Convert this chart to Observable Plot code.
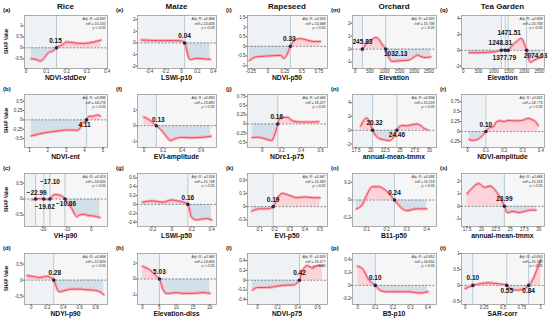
<!DOCTYPE html>
<html><head><meta charset="utf-8">
<script src="https://cdn.jsdelivr.net/npm/d3@7"></script>
<script src="https://cdn.jsdelivr.net/npm/@observablehq/plot@0.6"></script>
<style>
body{margin:0;background:#fff;font-family:"Liberation Sans",Arial,sans-serif;}
#c{position:relative;width:550px;height:322px;overflow:hidden;background:#fff;}
.t{position:absolute;white-space:nowrap;color:#111;line-height:1;}
.p{position:absolute;}
.p svg{overflow:visible;}
</style></head><body><div id="c"></div><script>
// ---------- data ----------
const columns = ["Rice","Maize","Rapeseed","Orchard","Tea Garden"];
const letters = ["a","b","c","d","e","f","g","h","i","j","k","l","m","n","o","p","q","r","s","t"];
const features = ["NDVI-stdDev","NDVI-ent","VH-p90","NDYI-p90","LSWI-p10","EVI-amplitude","LSWI-p50","Elevation-diss","NDVI-p50","NDre1-p75","EVI-p50","NDVI-p75","Elevation","annual-mean-tmmx","B11-p50","B5-p10","Elevation","NDVI-amplitude","annual-mean-tmmx","SAR-corr"];
const adjR2 = ["0.892","0.896","0.913","0.884","0.964","0.883","0.914","0.940","0.933","0.943","0.947","0.929","0.925","0.894","0.936","0.852","0.899","0.831","0.846","0.853"];
const edf = ["15.150","14.276","14.835","12.429","13.426","13.480","15.738","13.456","13.948","16.227","15.380","16.377","15.798","15.518","15.118","14.655","15.768","14.773","15.318","15.190"];

// (a) Rice NDVI-stdDev
const aX = [0.025,0.05,0.07,0.09,0.11,0.13,0.15,0.18,0.2,0.22,0.25,0.28,0.31,0.34,0.37];
const aY = [-0.5,-0.53,-0.6,-0.45,-0.22,-0.15,0,0.15,0.26,0.25,0.21,0.2,0.22,0.28,0.35];
const aThr = [0.15];
// (b) Rice NDVI-ent
const bX = [1.1,1.5,2,2.5,3,3.3,3.6,3.75,3.85,3.95,4.11,4.25,4.4,4.6,4.75,4.85];
const bY = [-0.43,-0.38,-0.33,-0.3,-0.27,-0.27,-0.28,-0.22,-0.1,-0.07,0,0.1,0.09,0.12,0.13,0.1];
const bThr = [4.11];
// (c) Rice VH-p90
const cX = [-24.5,-22.99,-21,-19.62,-18.3,-17.1,-16,-15,-13.5,-12,-10.86,-9.5,-8,-7,-6,-5,-3,-1,1,3.5];
const cY = [-0.02,0,0.01,0,-0.01,0,0.1,0.14,0.13,0.08,0,-0.15,-0.3,-0.45,-0.55,-0.5,-0.48,-0.52,-0.53,-0.58];
const cThr = [-22.99,-19.62,-17.10,-10.86];
// (d) Rice NDYI-p90
const dX = [-0.05,0,0.05,0.1,0.15,0.2,0.24,0.28,0.3,0.33,0.36,0.4,0.45,0.5,0.6,0.7,0.8,0.85,0.9];
const dY = [0.14,0.12,0.1,0.08,0.1,0.12,0.08,0,-0.12,-0.32,-0.36,-0.33,-0.3,-0.28,-0.28,-0.3,-0.32,-0.36,-0.45];
const dThr = [0.28];
// (e) Maize LSWI-p10
const eX = [-0.5,-0.4,-0.3,-0.2,-0.1,0,0.02,0.04,0.06,0.08,0.1,0.13,0.16,0.2,0.25,0.3,0.36];
const eY = [0.25,0.23,0.2,0.2,0.2,0.18,0.12,0,-0.4,-1.0,-1.38,-1.42,-1.35,-1.32,-1.35,-1.38,-1.4];
const eThr = [0.04];
// (f) Maize EVI-amplitude
const fX = [0,0.05,0.1,0.13,0.17,0.2,0.25,0.28,0.32,0.4,0.5,0.6,0.7];
const fY = [0.55,0.4,0.15,0,-0.2,-0.4,-0.8,-0.95,-0.85,-0.75,-0.78,-0.75,-0.68];
const fThr = [0.13];
// (g) Maize LSWI-p50
const gX = [-0.3,-0.2,-0.1,0,0.05,0.1,0.16,0.2,0.25,0.3,0.35,0.4];
const gY = [0.05,0.08,0.05,0.1,0.08,0.06,0,-0.3,-0.35,-0.33,-0.32,-0.35];
const gThr = [0.16];
// (h) Maize Elevation-diss
const hX = [0,1,2,3,4,5.03,6,7,8,10,12,15,18,20];
const hY = [0.8,0.7,0.6,0.4,0.2,0,-0.6,-0.9,-0.9,-0.85,-0.9,-0.9,-0.85,-0.9];
const hThr = [5.03];
// (i) Rapeseed NDVI-p50
const iX = [-0.27,-0.18,-0.1,0,0.1,0.19,0.235,0.27,0.33,0.38,0.43,0.48,0.53,0.58,0.67,0.77];
const iY = [-0.73,-0.55,-0.52,-0.5,-0.48,-0.47,-0.62,-0.5,0,0.28,0.38,0.4,0.36,0.32,0.25,0.25];
const iThr = [0.33];
// (j) Rapeseed NDre1-p75
const jX = [-0.1,-0.05,0,0.05,0.1,0.12,0.14,0.16,0.18,0.2,0.25,0.28,0.3,0.35,0.4,0.5,0.58];
const jY = [-0.37,-0.36,-0.38,-0.42,-0.45,-0.35,-0.2,0,0.15,0.17,0.18,0.15,0.1,0.06,0.05,0.05,0.06];
const jThr = [0.16];
// (k) Rapeseed EVI-p50
const kX = [0.05,0.1,0.15,0.19,0.22,0.25,0.3,0.35,0.4,0.45,0.5];
const kY = [-0.1,-0.05,-0.05,0,0.2,0.3,0.25,0.2,0.22,0.2,0.2];
const kThr = [0.19];
// (l) Rapeseed NDVI-p75
const lX = [-0.05,0,0.1,0.2,0.3,0.35,0.42,0.45,0.5,0.55,0.6,0.65];
const lY = [-0.2,-0.15,-0.15,-0.12,-0.1,-0.1,0,0.2,0.3,0.25,0.3,0.3];
const lThr = [0.42];
// (m) Orchard Elevation
const mX = [200,245.83,400,550,700,800,900,1032.13,1150,1250,1500,1800,2000,2100,2200,2400,2550];
const mY = [-0.05,0,0.5,0.7,0.9,0.75,0.4,0,-0.7,-0.95,-0.9,-0.85,-0.6,-0.45,-0.55,-0.65,-0.6];
const mThr = [245.83,1032.13];
// (n) Orchard annual-mean-tmmx
const nX = [18.3,18.8,19.3,19.8,20.32,20.8,21.5,22.5,23.2,23.8,24.2,24.46,25,25.5,26,27,27.8,28.5,29,29.7];
const nY = [0.6,1.4,1.8,1.2,0,-0.7,-1.2,-1.4,-1.5,-1.1,-0.5,0,0.6,0.7,0.65,0.8,0.9,0.7,0.3,0.05];
const nThr = [20.32,24.46];
// (o) Orchard B11-p50
const oX = [0.05,0.08,0.1,0.13,0.16,0.2,0.24,0.28,0.3,0.35,0.4];
const oY = [-0.1,-0.05,0.05,0.15,0.15,0.1,0,-0.1,-0.12,-0.1,-0.1];
const oThr = [0.24];
// (p) Orchard B5-p10
const pX = [0,0.03,0.06,0.1,0.13,0.16,0.2,0.25,0.3,0.35,0.4];
const pY = [0.3,0.25,0.1,0,-0.08,-0.1,-0.1,-0.1,-0.1,-0.12,-0.1];
const pThr = [0.10];
// (q) Tea Garden Elevation
const qX = [200,500,800,1000,1150,1248.31,1310,1377.79,1420,1471.51,1600,1750,1900,2000,2074.63,2150,2200,2300,2400,2550];
const qY = [-0.3,-0.3,-0.25,-0.2,-0.1,0,0.08,0,-0.06,0,0.6,1.1,1.5,0.8,0,-1.2,-1.5,-1.3,-1.1,-0.9];
const qThr = [1248.31,1377.79,1471.51,2074.63];
// (r) Tea Garden NDVI-amplitude
const rX = [0.01,0.03,0.05,0.07,0.09,0.1,0.12,0.14,0.16,0.18,0.2,0.22,0.25,0.28,0.3,0.33,0.35,0.37,0.385];
const rY = [-0.2,-0.22,-0.2,-0.15,-0.05,0,0.1,0.12,0.25,0.27,0.25,0.28,0.27,0.27,0.28,0.33,0.3,0.25,0.15];
const rThr = [0.10];
// (s) Tea Garden annual-mean-tmmx
const sX = [17.5,18.5,19.5,20.5,21.5,22.5,23.5,23.99,24.5,25.5,26.5,27.5,28.5,29.5];
const sY = [1,1.5,1.8,1.5,1.6,1.2,0.5,0,-0.5,-0.4,-0.5,-0.4,-0.3,-0.3];
const sThr = [23.99];
// (t) Tea Garden SAR-corr
const tX = [0,0.05,0.1,0.2,0.3,0.4,0.5,0.55,0.6,0.7,0.8,0.84,0.9,0.95,1];
const tY = [-0.1,-0.05,0,0.05,0.08,0.06,0.03,0,-0.1,-0.15,-0.08,0,0.2,0.5,0.8];
const tThr = [0.10,0.55,0.84];

// tick labels
const xTicks = [[0,0.1,0.2,0.3,0.4],[1,2,3,4,5],[-20,-10,0],[0,0.2,0.4,0.6,0.8],
  [-0.4,-0.2,0,0.2,0.4],[0,0.2,0.4,0.6],[-0.2,0,0.2,0.4],[0,5,10,15,20],
  [-0.25,0,0.25,0.5,0.75],[0,0.2,0.4,0.6],[0.1,0.2,0.3,0.4,0.5],[0,0.2,0.4,0.6],
  [0,500,1000,1500,2000,2500],[17.5,20,22.5,25,27.5,30],[0.1,0.2,0.3,0.4],[0,0.1,0.2,0.3,0.4],
  [0,500,1000,1500,2000,2500],[0,0.1,0.2,0.3,0.4],[17.5,20,22.5,25,27.5,30],[0,0.25,0.5,0.75,1]];
const yTicks = [[-0.5,0,0.5,1],[-0.5,-0.25,0,0.25,0.5],[-0.5,0,0.5],[-0.5,0,0.5],
  [-2,-1,0,1,2],[-1,0,1],[-0.4,-0.2,0,0.2,0.4,0.6],[-1,0,1],
  [-1,-0.5,0,0.5,1,1.5],[-0.5,-0.25,0,0.25,0.5,0.75],[-0.3,0,0.3,0.6],[-0.4,-0.2,0,0.2,0.4],
  [-1,0,1,2],[-2,0,2,4],[-0.2,0,0.2],[-0.2,0,0.2,0.4],
  [-2,0,2,4],[-0.25,0,0.25,0.5,0.75],[-1,0,1,2],[-0.5,0,0.5,1]];

// ---------- layout (positions / styles) ----------
const colLeft = [24,137,247,352,461], colRight = [107,216,327,436,544];
const rowTop = [15,94,173,253], rowBottom = [68,147,226,304];
const xDomains = [[-0.008,0.402],[0.73,5.25],[-27.6,6.7],[-0.083,0.946],
  [-0.55,0.44],[-0.067,0.76],[-0.35,0.45],[-1.5,22],
  [-0.30,0.876],[-0.15,0.67],[0.02,0.55],[-0.1,0.7],
  [-90,2750],[16.9,31.2],[0.03,0.45],[-0.03,0.45],
  [-55,2660],[-0.033,0.42],[16.5,31],[-0.05,1.05]];
const yDomains = [[-0.94,1.47],[-0.74,0.68],[-0.86,0.8],[-0.76,0.83],
  [-2.2,2.36],[-1.4,2.0],[-0.5,0.7],[-1.6,1.6],
  [-1.15,1.6],[-0.64,0.8],[-0.45,0.75],[-0.5,0.55],
  [-1.5,2.6],[-2.5,5.2],[-0.3,0.3],[-0.3,0.5],
  [-2.3,4.4],[-0.4,0.93],[-1.6,2.6],[-0.6,1]];
const labelOffsets = [[[-1,-7]],[[-2,5]],[[1,-6],[1,8],[0,-17],[1,5]],[[1,-7]],
  [[0,-7]],[[2,-6]],[[0,-7]],[[0,-7]],
  [[-1,-7]],[[-1,-7]],[[0,-7]],[[0,-7]],
  [[0,-7],[10,5]],[[2,-7],[0,5]],[[0,-7]],[[0,-7]],
  [[-1,-7],[-1,8],[1,-17],[9,6]],[[0,-7]],[[0,-7]],[[0,-7],[0,6],[0,6]]];

const series = [[aX,aY,aThr],[bX,bY,bThr],[cX,cY,cThr],[dX,dY,dThr],
  [eX,eY,eThr],[fX,fY,fThr],[gX,gY,gThr],[hX,hY,hThr],
  [iX,iY,iThr],[jX,jY,jThr],[kX,kY,kThr],[lX,lY,lThr],
  [mX,mY,mThr],[nX,nY,nThr],[oX,oY,oThr],[pX,pY,pThr],
  [qX,qY,qThr],[rX,rY,rThr],[sX,sY,sThr],[tX,tY,tThr]];

const C = document.getElementById("c");
function addText(txt, css){
  const d = document.createElement("div"); d.className="t"; d.textContent = txt;
  Object.assign(d.style, css); C.appendChild(d); return d;
}
const fmt2 = d3.format(".2f");
const tickFmt = d => String(d);

columns.forEach((name, col) => {
  addText(name, {left: colLeft[col] + "px", width: (colRight[col]-colLeft[col]) + "px", top: "3px",
    textAlign: "center", fontWeight: "bold", fontSize: "8px"});
});

for (let k = 0; k < 20; k++) {
  const col = Math.floor(k/4), row = k % 4;
  const [X, Y, T] = series[k];
  const x0 = colLeft[col], x1 = colRight[col], y0 = rowTop[row], y1 = rowBottom[row];
  const ml = 22, mr = 3, mt = 3, mb = 7;
  const W = x1 - x0 + ml + mr, H = y1 - y0 + mt + mb;
  const data = X.map((x, i) => ({x, y: Y[i]}));
  const thr = T.map((t, i) => ({x: t, y: 0, dx: labelOffsets[k][i][0], dy: labelOffsets[k][i][1]}));
  const xd = xDomains[k], yd = yDomains[k];
  const marks = [
    Plot.frame({fill: "#f6f6f6"}),
    Plot.rect([0], {x1: () => xd[0], x2: () => T[0], y1: () => yd[0], y2: () => yd[1], fill: "#eef2f5"}),
    Plot.areaY(data, {x: "x", y1: 0, y2: d => Math.max(d.y, 0), fill: "#fbd3d9", curve: "monotone-x"}),
    Plot.areaY(data, {x: "x", y1: 0, y2: d => Math.min(d.y, 0), fill: "#d3e0e9", curve: "monotone-x"}),
    Plot.ruleX(T, {stroke: "#a9bccb", strokeWidth: 0.8}),
    Plot.ruleY([0], {stroke: "#444", strokeDasharray: "2,1.5", strokeWidth: 0.6}),
    Plot.line(data, {x: "x", y: "y", stroke: "#f8b0ba", strokeWidth: 3, curve: "monotone-x"}),
    Plot.line(data, {x: "x", y: "y", stroke: "#f2485f", strokeWidth: 1, curve: "monotone-x"}),
    Plot.dot(thr, {x: "x", y: "y", r: 1.8, fill: "#1c2b4d"}),
    ...thr.map(t => Plot.text([t], {x: "x", y: "y", text: d => fmt2(d.x), dx: t.dx, dy: t.dy,
      fontWeight: "bold", fontSize: 6.5, fill: "#111"})),
    Plot.text([`Adj. R\u00b2 =${adjR2[k]}\nedf = ${edf[k]}\np < 0.05`], {frameAnchor: "top-right", dx: -2, dy: 2,
      lineAnchor: "top", textAnchor: "end", fontSize: 3.6, fontStyle: "italic", fill: "#333", lineHeight: 1.15}),
    Plot.frame({stroke: "#9a9a9a", strokeWidth: 0.8}),
    Plot.axisX({ticks: xTicks[k], tickFormat: tickFmt, tickSize: 1, tickPadding: 0.5, label: null, fontSize: 4.5, stroke: "#555", fill: "#333"}),
    Plot.axisY({ticks: yTicks[k], tickFormat: tickFmt, tickSize: 1.5, tickPadding: 0.5, label: null, fontSize: 4.5, stroke: "#555", fill: "#333"})
  ];
  const svg = Plot.plot({
    width: W, height: H, marginLeft: ml, marginRight: mr, marginTop: mt, marginBottom: mb,
    x: {domain: xd}, y: {domain: yd},
    style: {fontFamily: "Liberation Sans, Arial, sans-serif", fontSize: "4.5px", background: "transparent", overflow: "visible"},
    marks
  });
  const wrap = document.createElement("div"); wrap.className = "p";
  wrap.style.left = (x0 - ml) + "px"; wrap.style.top = (y0 - mt) + "px";
  wrap.appendChild(svg); C.appendChild(wrap);
  // panel letter
  addText(`(${letters[k]})`, {left: (x0 - 21) + "px", top: (y0 - 8) + "px", fontWeight: "bold", fontSize: "6px"});
  // x title
  addText(features[k], {left: x0 + "px", width: (x1 - x0) + "px", top: (y1 + 7) + "px",
    textAlign: "center", fontWeight: "bold", fontSize: "6.8px"});
  if (col === 0) {
    const d = addText("SHAP Value", {left: "-8px", top: ((y0 + y1)/2 - 2.5) + "px", fontWeight: "bold", fontSize: "4.5px",
      transformOrigin: "center", width: "30px", textAlign: "center", transform: "rotate(-90deg)"});
  }
}
</script></body></html>
